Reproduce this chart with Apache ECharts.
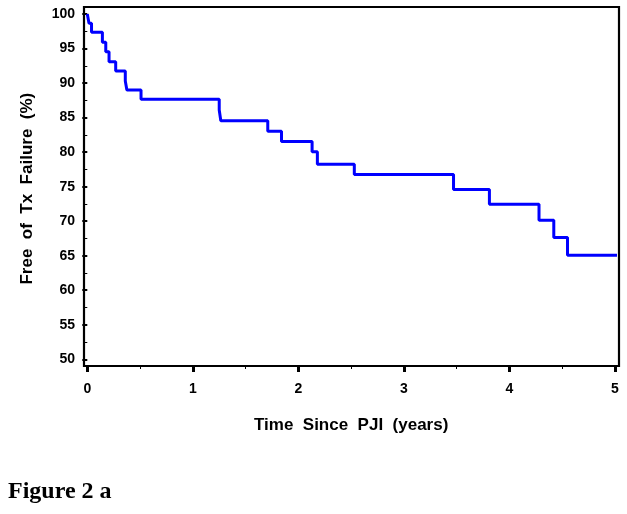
<!DOCTYPE html>
<html>
<head>
<meta charset="utf-8">
<script src="https://cdn.jsdelivr.net/npm/echarts@6/dist/echarts.min.js"></script>
<style>
html,body{margin:0;padding:0;background:#fff;}
#chart{width:627px;height:514px;}
</style>
</head>
<body>
<div id="chart"></div>
<script>
// Kaplan-Meier step data
const eventTimes = [0, 0.016, 0.04, 0.143, 0.175, 0.206, 0.269, 0.36, 0.375, 0.509, 1.25, 1.265, 1.71, 1.84, 2.13, 2.18, 2.53, 3.47, 3.81, 4.28, 4.42, 4.55, 5.02];
const freeOfFailure = [100, 98.65, 97.35, 95.9, 94.54, 93.09, 91.74, 90.3, 88.99, 87.64, 86.09, 84.54, 83.04, 81.55, 80.04, 78.26, 76.77, 74.59, 72.46, 70.14, 67.64, 65.07, 65.07];
const xTicks = [0, 1, 2, 3, 4, 5];
const yTicks = [50, 55, 60, 65, 70, 75, 80, 85, 90, 95, 100];
const xTitle = 'Time  Since  PJI  (years)';
const yTitle = 'Free  of  Tx  Failure  (%)';
const figureLabel = 'Figure 2 a';

const chart = echarts.init(document.getElementById('chart'), null, {renderer: 'canvas'});
const labelFont = {fontFamily: 'Liberation Sans, Arial, sans-serif', fontWeight: 'bold', fontSize: 14, color: '#000'};
const titleFont = {fontFamily: 'Liberation Sans, Arial, sans-serif', fontWeight: 'bold', color: '#000'};

chart.setOption({
  animation: false,
  backgroundColor: '#fff',
  grid: [
    {left: 87.3, right: 12, top: 14, bottom: 154.7, containLabel: false},
    {left: 84, right: 8, top: 7, bottom: 148, show: true, borderColor: '#000', borderWidth: 2.2, backgroundColor: 'transparent'}
  ],
  xAxis: [
    {
      type: 'value', gridIndex: 0, min: xTicks[0], max: xTicks[xTicks.length - 1], interval: 1,
      offset: 6.7,
      axisLine: {show: false},
      axisTick: {show: true, length: 6, lineStyle: {color: '#000', width: 3}},
      minorTick: {show: true, splitNumber: 2, length: 3, lineStyle: {color: '#000', width: 1}},
      splitLine: {show: false},
      axisLabel: Object.assign({margin: 16}, labelFont),
      name: xTitle, nameLocation: 'middle', nameGap: 51,
      nameTextStyle: Object.assign({fontSize: 17}, titleFont)
    },
    {type: 'value', gridIndex: 1, show: false, min: 0, max: 1}
  ],
  yAxis: [
    {
      type: 'value', gridIndex: 0, min: yTicks[0], max: yTicks[yTicks.length - 1], interval: 5,
      offset: 3.3,
      axisLine: {show: false},
      axisTick: {show: true, length: 5, lineStyle: {color: '#000', width: 2}},
      minorTick: {show: true, splitNumber: 2, length: 3, lineStyle: {color: '#000', width: 1}},
      splitLine: {show: false},
      axisLabel: Object.assign({margin: 9}, labelFont),
      name: yTitle, nameLocation: 'middle', nameGap: 48, nameRotate: 90,
      nameTextStyle: Object.assign({fontSize: 17, padding: [0, 4, 0, 0]}, titleFont)
    },
    {type: 'value', gridIndex: 1, show: false, min: 0, max: 1}
  ],
  series: [{
    type: 'line',
    xAxisIndex: 0, yAxisIndex: 0,
    step: 'end',
    clip: false,
    symbol: 'none',
    lineStyle: {color: '#0000ff', width: 3},
    data: eventTimes.map((t, i) => [t, freeOfFailure[i]])
  }],
  graphic: [{
    type: 'text', left: 8, top: 480,
    style: {text: figureLabel, font: 'bold 24px "Liberation Serif", "Times New Roman", serif', fill: '#000'}
  }]
});
</script>
</body>
</html>
